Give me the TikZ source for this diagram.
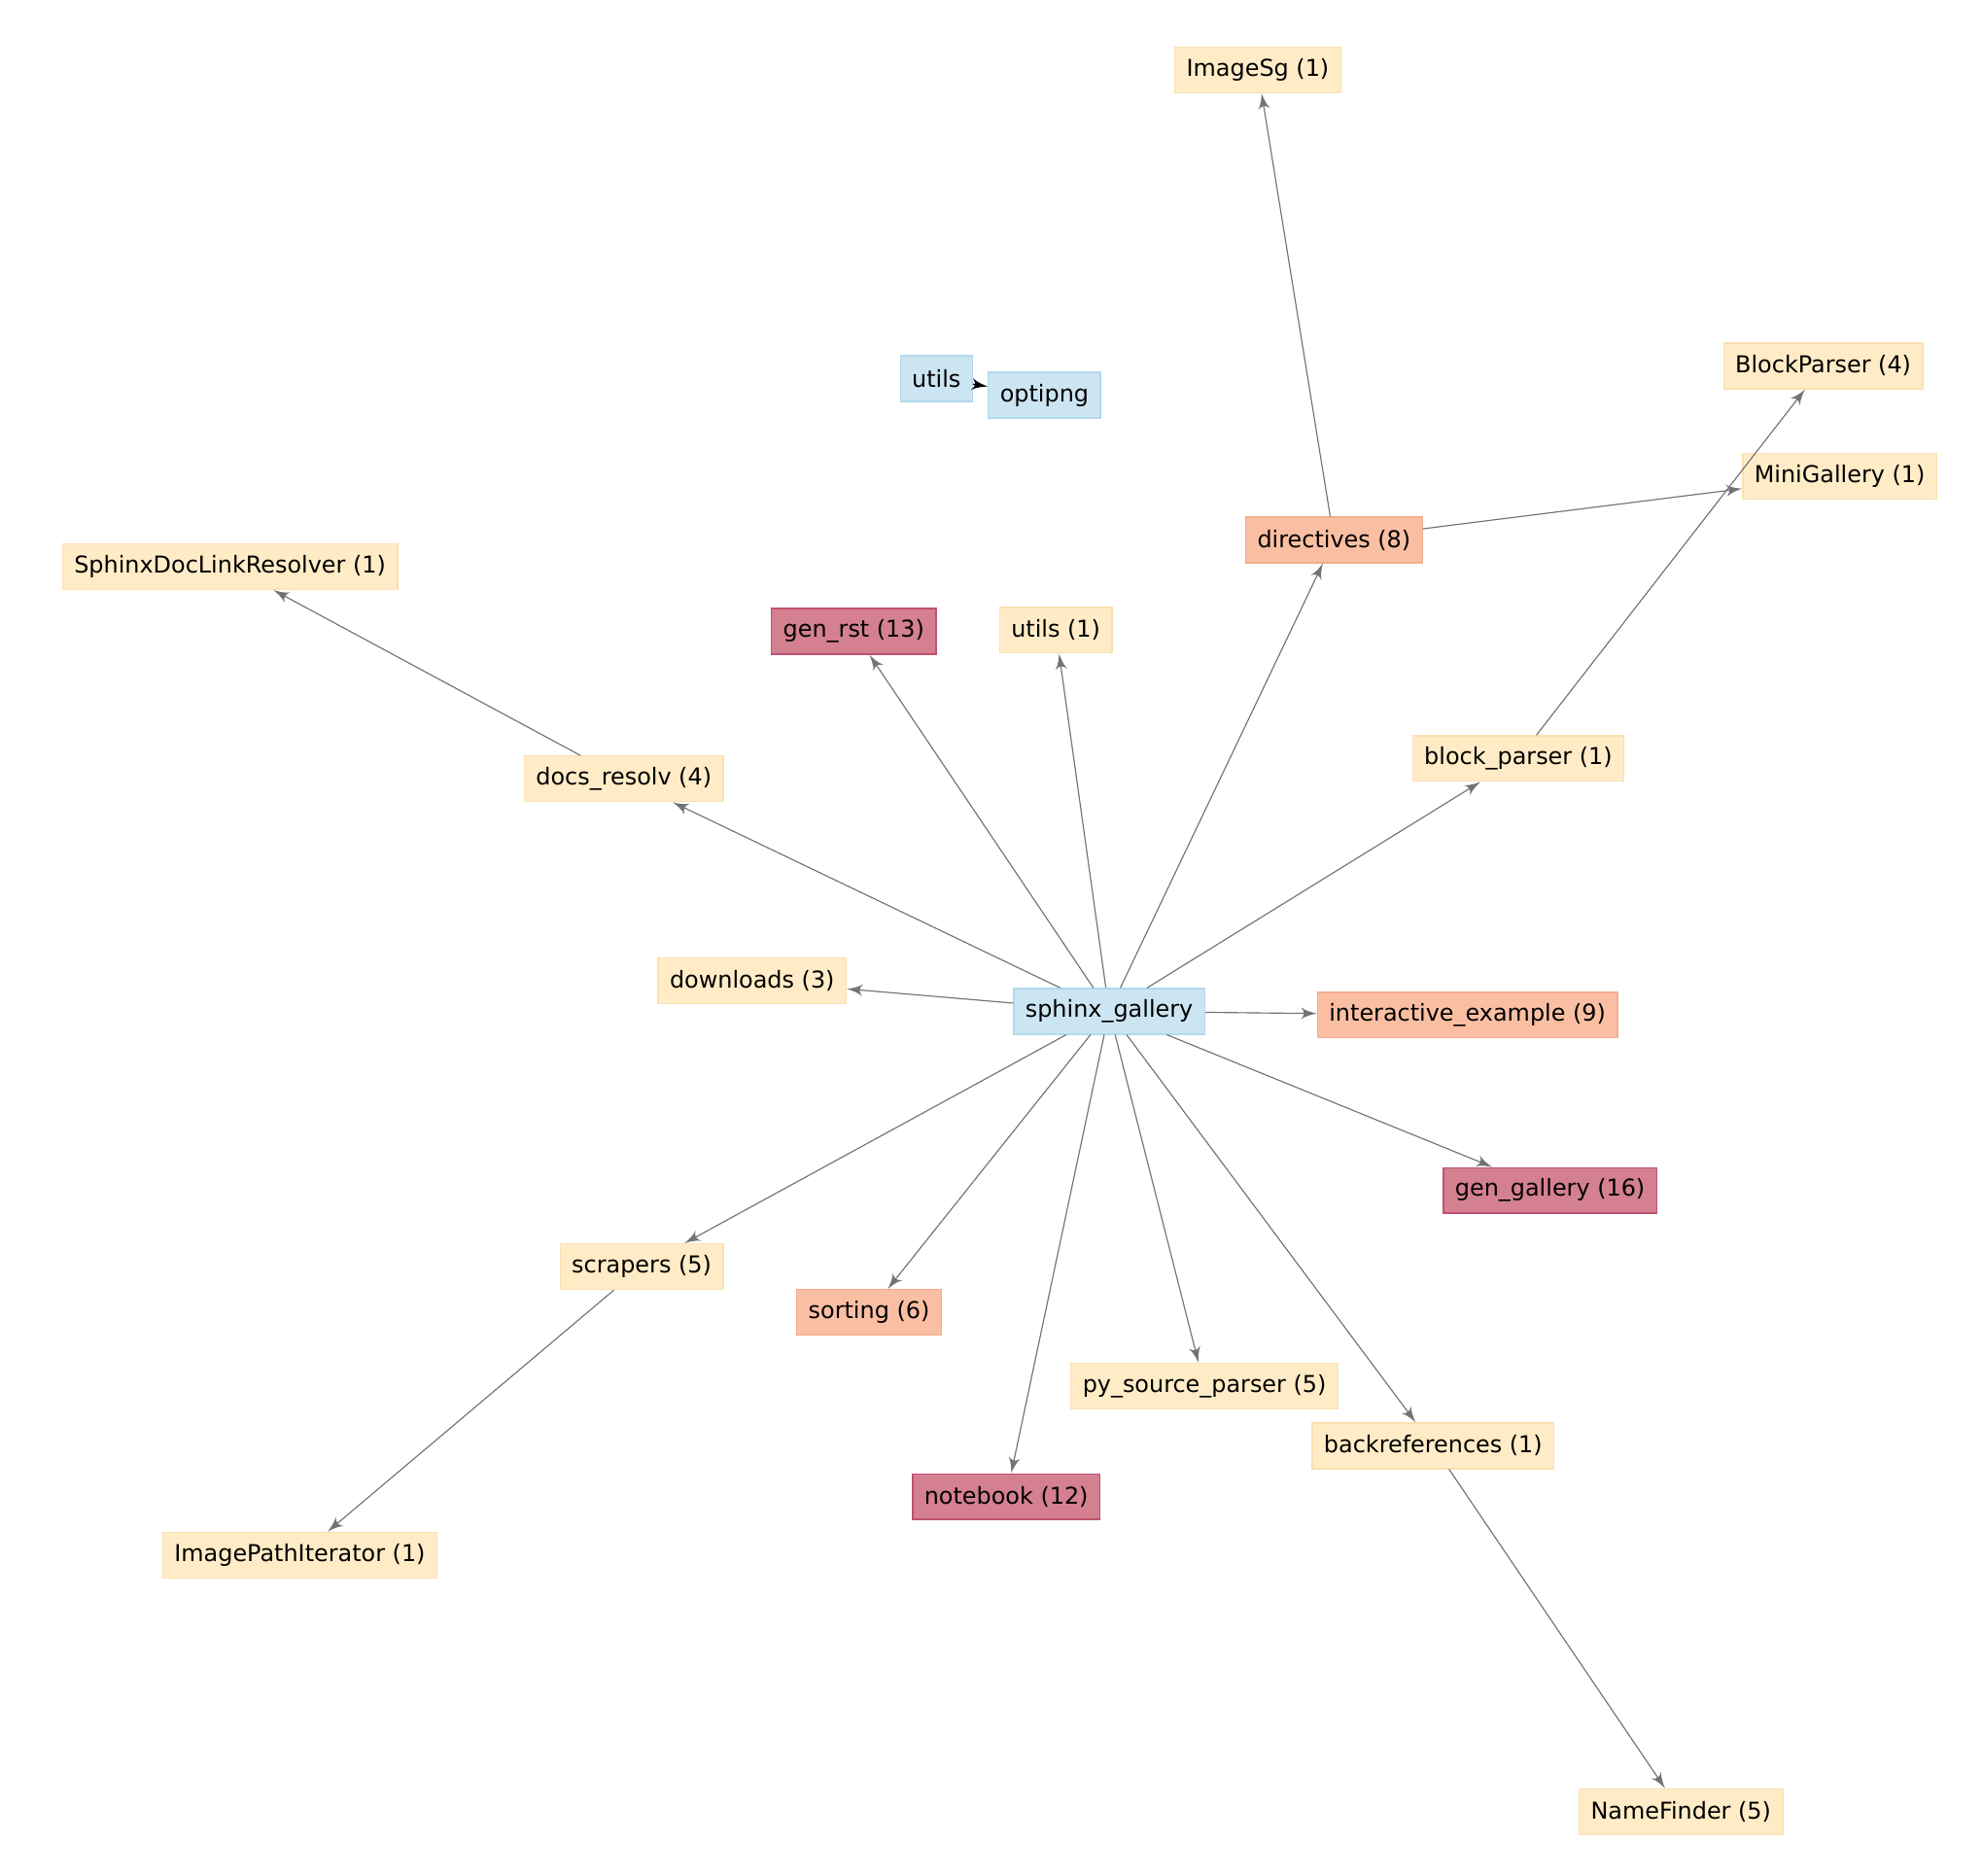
\documentclass[tikz,border=0pt]{standalone}
\usepackage{fontspec}
\setmainfont{DejaVu Sans}
\usetikzlibrary{arrows}
\definecolor{bluefill}{rgb}{0.80, 0.90, 0.95}
\definecolor{blueline}{rgb}{0.70, 0.85, 0.92}
\definecolor{beigefill}{rgb}{1.00, 0.925, 0.78}
\definecolor{beigeline}{rgb}{0.98, 0.88, 0.70}
\definecolor{salmonfill}{rgb}{0.98, 0.75, 0.64}
\definecolor{salmonline}{rgb}{0.95, 0.68, 0.56}
\definecolor{redfill}{rgb}{0.83, 0.50, 0.57}
\definecolor{redline}{rgb}{0.75, 0.32, 0.45}
\definecolor{edgegray}{rgb}{0.45, 0.45, 0.45}
\begin{document}
\begin{tikzpicture}[x=0.01cm,y=-0.01cm]

		\tikzset{module/.style = {shape=rectangle,draw,font=\fontsize{5.2pt}{6pt}\selectfont,
			minimum height=10.2pt,inner xsep=2.6pt,inner ysep=1pt,line width=0.3pt}}
		\tikzset{pkg/.style = {module,fill=bluefill,draw=blueline}}
		\tikzset{few/.style = {module,fill=beigefill,draw=beigeline}}
		\tikzset{mid/.style = {module,fill=salmonfill,draw=salmonline}}
		\tikzset{many/.style = {module,fill=redfill,draw=redline}}
		\tikzset{edge/.style = {->,> = latex',draw=edgegray,fill=edgegray,line width=0.25pt}}
		\useasboundingbox (0,0) rectangle (1560,1476);
		% vertices
		% centre
		\node[pkg] (sg) at (873,796) {sphinx\_gallery};
		% first ring
		\node[few] (downloads) at (592,772) {downloads (3)};
		\node[few] (docsresolv) at (491,613) {docs\_resolv (4)};
		\node[many] (genrst) at (672,497) {gen\_rst (13)};
		\node[few] (utilsone) at (831,496) {utils (1)};
		\node[mid] (directives) at (1050,425) {directives (8)};
		\node[few] (blockparser) at (1195,597) {block\_parser (1)};
		\node[mid] (interactive) at (1155,799) {interactive\_example (9)};
		\node[many] (gengallery) at (1220,937) {gen\_gallery (16)};
		\node[few] (scrapers) at (505,997) {scrapers (5)};
		\node[mid] (sorting) at (684,1033) {sorting (6)};
		\node[few] (pysource) at (948,1091) {py\_source\_parser (5)};
		\node[few] (backrefs) at (1128,1138) {backreferences (1)};
		\node[many] (notebook) at (792,1178) {notebook (12)};
		% outer ring
		\node[few] (imagesg) at (990,55) {ImageSg (1)};
		\node[few] (blockclass) at (1435,288) {BlockParser (4)};
		\node[few] (minigallery) at (1448,375) {MiniGallery (1)};
		\node[few] (resolver) at (181,446) {SphinxDocLinkResolver (1)};
		\node[few] (imagepath) at (236,1224) {ImagePathIterator (1)};
		\node[few] (namefinder) at (1323,1426) {NameFinder (5)};
		% separate pair
		\node[pkg] (utils) at (737,298) {utils};
		\node[pkg] (optipng) at (822,311) {optipng};

		%edges
		% from the package
		\draw[edge] (sg) to (downloads);
		\draw[edge] (sg) to (docsresolv);
		\draw[edge] (sg) to (genrst);
		\draw[edge] (sg) to (utilsone);
		\draw[edge] (sg) to (directives);
		\draw[edge] (sg) to (blockparser);
		\draw[edge] (sg) to (interactive);
		\draw[edge] (sg) to (gengallery);
		\draw[edge] (sg) to (scrapers);
		\draw[edge] (sg) to (sorting);
		\draw[edge] (sg) to (pysource);
		\draw[edge] (sg) to (backrefs);
		\draw[edge] (sg) to (notebook);
		% to the classes
		\draw[edge] (directives) to (imagesg);
		\draw[edge] (directives) to (minigallery);
		\draw[edge] (blockparser) to (blockclass);
		\draw[edge] (docsresolv) to (resolver);
		\draw[edge] (scrapers) to (imagepath);
		\draw[edge] (backrefs) to (namefinder);
		\draw[edge,draw=black,fill=black] (utils) to (optipng);

\end{tikzpicture}
\end{document}
